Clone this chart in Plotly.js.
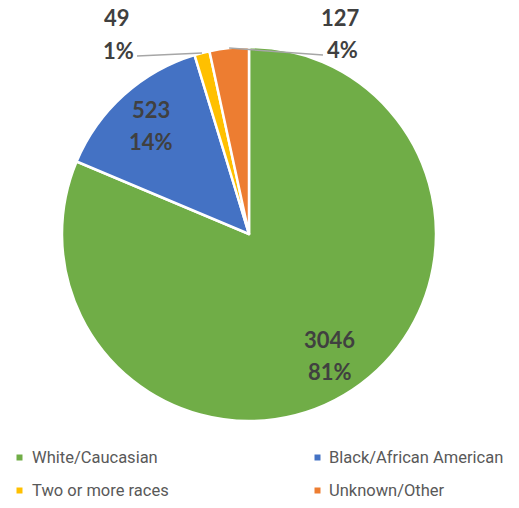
<!DOCTYPE html>
<html>
<head>
<meta charset="utf-8">
<script src="https://cdn.plot.ly/plotly-3.0.1.min.js"></script>
<style>html,body{margin:0;padding:0;background:#fff}#chart{width:519px;height:508px}</style>
</head>
<body>
<div id="chart"></div>
<script>
// ---- data ----
var categories = ["White/Caucasian", "Black/African American", "Two or more races", "Unknown/Other"];
var counts = [3046, 523, 49, 127];
var percentLabels = ["81%", "14%", "1%", "4%"];
var colors = ["#70AD47", "#4472C4", "#FFC000", "#ED7D31"];

// ---- layout geometry ----
var W = 519, H = 508;
var domX = [62 / W, 436 / W];
var domY = [1 - 421 / H, 1 - 47 / H];
var cxPx = (domX[0] + domX[1]) / 2 * W;
var cyPx = (1 - (domY[0] + domY[1]) / 2) * H;
var Rpx = Math.min((domX[1] - domX[0]) * W, (domY[1] - domY[0]) * H) / 2;

var total = counts.reduce(function (a, b) { return a + b; }, 0);
function midPoint(i, rf) {
  var cum = 0;
  for (var k = 0; k < i; k++) cum += counts[k];
  var ang = (cum + counts[i] / 2) / total * 2 * Math.PI; // clockwise from 12 o'clock
  return { x: cxPx + rf * Rpx * Math.sin(ang), y: cyPx - rf * Rpx * Math.cos(ang) };
}
function px2paper(p) { return { x: p.x / W, y: 1 - p.y / H }; }

var labelFont = { family: "Lato, 'Open Sans', sans-serif", size: 22, color: "#404040", weight: 700 };
var legendFont = { family: "Roboto, 'Open Sans', sans-serif", size: 16.5, color: "#595959" };
var annotations = [];
var shapes = [];

// inside labels for the large slices
[0, 1].forEach(function (i) {
  var p = px2paper(midPoint(i, 0.78));
  annotations.push({ xref: "paper", yref: "paper", x: p.x, y: p.y, text: String(counts[i]),
    showarrow: false, font: labelFont, yshift: 16, xanchor: "center", yanchor: "middle" });
  annotations.push({ xref: "paper", yref: "paper", x: p.x, y: p.y, text: percentLabels[i],
    showarrow: false, font: labelFont, yshift: -16, xanchor: "center", yanchor: "middle" });
});

// outside labels with leader lines for the small slices
var outside = [
  { i: 2, vx: 117, vy: 17, px: 118, py: 50, lx: 137, ly: 56 },
  { i: 3, vx: 340, vy: 17, px: 342, py: 49, lx: 323, ly: 55 }
];
outside.forEach(function (o) {
  annotations.push({ xref: "paper", yref: "paper", x: o.vx / W, y: 1 - o.vy / H, text: String(counts[o.i]),
    showarrow: false, font: labelFont, xanchor: "center", yanchor: "middle" });
  annotations.push({ xref: "paper", yref: "paper", x: o.px / W, y: 1 - o.py / H, text: percentLabels[o.i],
    showarrow: false, font: labelFont, xanchor: "center", yanchor: "middle" });
  var e = px2paper(midPoint(o.i, 1.0));
  shapes.push({ type: "line", xref: "paper", yref: "paper", x0: o.lx / W, y0: 1 - o.ly / H, x1: e.x, y1: e.y,
    line: { color: "#A6A6A6", width: 1.5 } });
});

// legend (two columns, drawn as small squares + text)
var legendSlots = [
  { mx: 19.5, tx: 30, y: 457.5 },
  { mx: 317.5, tx: 327, y: 457.5 },
  { mx: 19.5, tx: 30, y: 490.5 },
  { mx: 317.5, tx: 327, y: 490.5 }
];
categories.forEach(function (c, i) {
  var s = legendSlots[i];
  shapes.push({ type: "rect", xref: "paper", yref: "paper",
    x0: (s.mx - 3) / W, x1: (s.mx + 3) / W, y0: 1 - (s.y + 3) / H, y1: 1 - (s.y - 3) / H,
    fillcolor: colors[i], line: { width: 0 } });
  annotations.push({ xref: "paper", yref: "paper", x: s.tx / W, y: 1 - s.y / H, text: c,
    showarrow: false, font: legendFont, xanchor: "left", yanchor: "middle" });
});

var data = [{
  type: "pie",
  labels: categories,
  values: counts,
  sort: false,
  direction: "clockwise",
  rotation: 0,
  textinfo: "none",
  marker: { colors: colors, line: { color: "#FFFFFF", width: 2.5 } },
  domain: { x: domX, y: domY },
  hoverinfo: "label+value+percent"
}];

var layout = {
  width: W, height: H,
  margin: { l: 0, r: 0, t: 0, b: 0 },
  paper_bgcolor: "#FFFFFF",
  showlegend: false,
  annotations: annotations,
  shapes: shapes
};

Plotly.newPlot("chart", data, layout, { displayModeBar: false, staticPlot: true });
</script>
</body>
</html>
